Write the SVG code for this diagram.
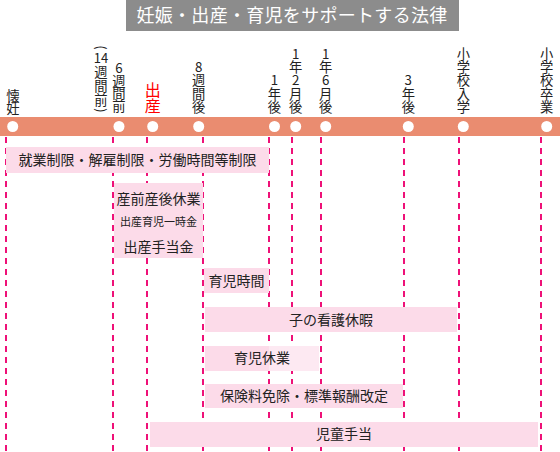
<svg xmlns="http://www.w3.org/2000/svg" width="560" height="452" viewBox="0 0 560 452">
<style>
text{font-family:"Noto Sans CJK JP","Noto Sans CJK SC",sans-serif;fill:#222}
.v{font-size:13.3px;writing-mode:vertical-rl;text-orientation:upright;text-anchor:end}
.box{fill:#fcdbe9}
.bt{font-size:14px;text-anchor:middle}
.dash{stroke:#ee1178;stroke-width:2;stroke-dasharray:6 5;fill:none}
.dot{fill:#fff}
</style>
<rect width="560" height="452" fill="#fff"/>
<g id="title">
<rect x="126" y="0" width="333" height="31" fill="#8c8c8c"/>
<text x="292" y="22" style="font-size:18px;fill:#fff;text-anchor:middle;letter-spacing:0.3px">妊娠・出産・育児をサポートする法律</text>
</g>
<g id="connectors">
<line class="dash" x1="6" y1="137" x2="6" y2="452"/>
<line class="dash" x1="113" y1="137" x2="113" y2="452"/>
<line class="dash" x1="147" y1="137" x2="147" y2="452"/>
<line class="dash" x1="203" y1="137" x2="203" y2="452"/>
<line class="dash" x1="269" y1="137" x2="269" y2="452"/>
<line class="dash" x1="292" y1="137" x2="292" y2="452"/>
<line class="dash" x1="321" y1="137" x2="321" y2="452"/>
<line class="dash" x1="404" y1="137" x2="404" y2="452"/>
<line class="dash" x1="459" y1="137" x2="459" y2="452"/>
<line class="dash" x1="541" y1="137" x2="541" y2="452"/>
</g>
<g id="timeline">
<rect x="0" y="117" width="560" height="19" fill="#ea8c70"/>
</g>
<g id="m-pregnancy">
<text class="v" x="13" y="114" style="letter-spacing:-1px">懐妊</text>
<circle class="dot" cx="12.7" cy="126.5" r="5.5"/>
</g>
<g id="m-14w-before">
<text x="101" y="47.5" transform="rotate(90 101 47.5)" style="font-size:13px;text-anchor:middle;dominant-baseline:central">(</text>
<text x="101" y="63" style="font-size:13px;text-anchor:middle">14</text>
<text class="v" x="101" y="106.5" style="letter-spacing:0.3px">週間前</text>
<text x="101" y="110.5" transform="rotate(90 101 110.5)" style="font-size:13px;text-anchor:middle;dominant-baseline:central">)</text>
</g>
<g id="m-6w-before">
<text class="v" x="119" y="112" style="letter-spacing:-0.6px">6週間前</text>
<circle class="dot" cx="119" cy="126.5" r="5.5"/>
</g>
<g id="m-birth">
<text x="152.7" y="114" style="font-size:16px;writing-mode:vertical-rl;text-orientation:upright;text-anchor:end;fill:#ff0000">出産</text>
<circle class="dot" cx="152.7" cy="126.5" r="5.5"/>
</g>
<g id="m-8w-after">
<text class="v" x="198.7" y="113.5">8週間後</text>
<circle class="dot" cx="198.7" cy="126.5" r="5.5"/>
</g>
<g id="m-1y">
<text class="v" x="274.5" y="113.5">1年後</text>
<circle class="dot" cx="274.5" cy="126.5" r="5.5"/>
</g>
<g id="m-1y2m">
<text class="v" x="295.7" y="113.5">1年2月後</text>
<circle class="dot" cx="295.7" cy="126.5" r="5.5"/>
</g>
<g id="m-1y6m">
<text class="v" x="325.7" y="113.5">1年6月後</text>
<circle class="dot" cx="325.7" cy="126.5" r="5.5"/>
</g>
<g id="m-3y">
<text class="v" x="408.3" y="113.5">3年後</text>
<circle class="dot" cx="408.3" cy="126.5" r="5.5"/>
</g>
<g id="m-school-entry">
<text class="v" x="463.3" y="113.5">小学校入学</text>
<circle class="dot" cx="463.3" cy="126.5" r="5.5"/>
</g>
<g id="m-school-grad">
<text class="v" x="546.7" y="113.5">小学校卒業</text>
<circle class="dot" cx="546.7" cy="126.5" r="5.5"/>
</g>
<g id="b-work-limits">
<rect class="box" x="6" y="147" width="263" height="26"/>
<text class="bt" x="137.5" y="165">就業制限・解雇制限・労働時間等制限</text>
</g>
<g id="b-maternity">
<rect class="box" x="114" y="183" width="89" height="75"/>
<text class="bt" x="158.5" y="204">産前産後休業</text>
<text class="bt" x="158.5" y="226" style="font-size:11px">出産育児一時金</text>
<text class="bt" x="158.5" y="252">出産手当金</text>
</g>
<g id="b-nursing-time">
<rect class="box" x="204" y="268" width="65" height="25"/>
<text class="bt" x="236.5" y="286">育児時間</text>
</g>
<g id="b-sick-child-leave">
<rect class="box" x="205" y="307" width="252" height="25"/>
<text class="bt" x="331" y="325">子の看護休暇</text>
</g>
<g id="b-childcare-leave">
<rect class="box" x="205" y="346" width="64" height="25"/>
<rect x="269" y="346" width="50" height="25" fill="#fde9f2"/>
<text class="bt" x="262" y="363">育児休業</text>
</g>
<g id="b-insurance">
<rect class="box" x="205" y="384" width="198" height="24"/>
<text class="bt" x="304" y="401">保険料免除・標準報酬改定</text>
</g>
<g id="b-child-allowance">
<rect class="box" x="150" y="422" width="388" height="25"/>
<text class="bt" x="344" y="439">児童手当</text>
</g>
</svg>
